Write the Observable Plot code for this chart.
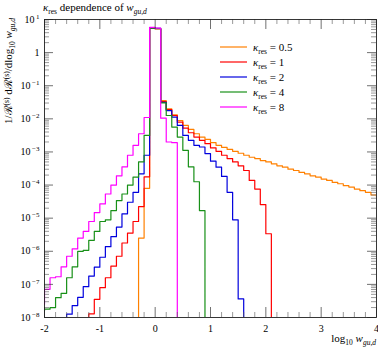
<!DOCTYPE html>
<html><head><meta charset="utf-8">
<script src="https://cdn.jsdelivr.net/npm/d3@7"></script>
<script src="https://cdn.jsdelivr.net/npm/@observablehq/plot@0.6"></script>
<style>body{margin:0;background:#fff;} #chart{position:relative;width:378px;height:349px;}</style>
</head><body><div id="chart"></div>
<script>
// ---- data (log10 of the histogram value per bin, bin width 0.1 in log10 w) ----
const kappaLabels = ["0.5", "1", "2", "4", "8"];
const seriesColors = ["#ff8000", "#ff0000", "#0000dd", "#189018", "#ff00ff"];
const firstBin = [-0.3, -1.2, -1.6, -2.1, -2.1];
const logK05 = [-5.6, -4.1, 0.74, 0.72,
  -1.45, -1.7, -1.88, -2.05, -2.2, -2.32, -2.45, -2.55, -2.62, -2.72,
  -2.8, -2.86, -2.92, -2.98, -3.04, -3.1, -3.16, -3.2, -3.26, -3.3,
  -3.36, -3.42, -3.46, -3.52, -3.56, -3.62, -3.66, -3.72, -3.76, -3.82,
  -3.86, -3.92, -3.96, -4.02, -4.06, -4.12, -4.17, -4.22, -4.3, -4.35];
const logK1 = [-7.89, -7.45, -7.1, -6.8, -6.45, -6.15, -5.75, -5.45, -5.1, -4.65, -3.75,
  0.74, 0.72,
  -1.48, -1.72, -1.9, -2.1, -2.28, -2.42, -2.55, -2.65, -2.75, -2.88,
  -2.98, -3.1, -3.2, -3.3, -3.42, -3.56, -3.86, -4.12, -4.59, -5.47];
const logK2 = [-7.9, -7.64, -7.39, -7.07, -6.75, -6.48, -6.18, -5.86, -5.56, -5.27, -4.87, -4.52, -4.22, -3.66, -3.1,
  0.75, 0.73,
  -1.5, -1.75, -1.95, -2.2, -2.5, -2.65, -2.8, -2.85, -3.05, -3.28, -3.46, -3.74, -4.22, -5.05, -7.44];
const logK4 = [-7.8, -7.75, -7.7, -7.4, -7.27, -6.8, -6.47, -6.0, -5.97, -5.67, -5.4, -5.1, -5.05, -4.77, -4.47, -4.27, -4.0, -3.76, -3.3, -2.5,
  0.74, 0.72,
  -1.52, -1.9, -2.25, -2.55, -2.95, -3.45, -3.9, -4.77];
const logK8 = [-7.6, -7.15, -6.8, -6.77, -6.47, -6.15, -5.93, -5.6, -5.4, -5.1, -4.83, -4.57, -4.27, -4.0, -3.72, -3.45, -3.1, -2.8, -2.45, -1.96,
  0.76, 0.74,
  -1.98, -2.7, -2.72];
const seriesLogs = [logK05, logK1, logK2, logK4, logK8];

const yMajor = [1e-8, 1e-7, 1e-6, 1e-5, 1e-4, 1e-3, 1e-2, 1e-1, 1, 10];
const yMinor = [];
for (let e = -8; e <= 0; e++) for (let m = 2; m <= 9; m++) yMinor.push(m * Math.pow(10, e));
const xMajor = [-2, -1, 0, 1, 2, 3, 4];
const xMinor = d3.range(-20, 41, 2).filter(d => d % 10 !== 0).map(d => d / 10);

// ---- build step series ----
function stepPoints(start, logs) {
  const pts = [{x: start, v: 1e-10}];
  logs.forEach((l, i) => pts.push({x: Math.round((start + i * 0.1) * 10) / 10, v: Math.pow(10, l)}));
  pts.push({x: Math.round((start + logs.length * 0.1) * 10) / 10, v: 1e-10});
  return pts;
}

const W = 378 - 44 - 2, H = 349 - 19 - 32;
const serif = "Liberation Serif";
const fmtY = d => {
  const e = Math.round(Math.log10(d));
  if (e === 0) return "1";
  return "10^" + String(e);
};

const lineMarks = seriesLogs.map((logs, i) =>
  Plot.line(stepPoints(firstBin[i], logs), {x: "x", y: "v", stroke: seriesColors[i], strokeWidth: 1.2, curve: "step-after", clip: true}));

const plot = Plot.plot({
  width: 378, height: 349,
  marginLeft: 44, marginRight: 2, marginTop: 19, marginBottom: 32,
  x: {domain: [-2, 4]},
  y: {type: "log", domain: [1e-8, 10]},
  style: {fontFamily: serif, fontSize: "10px", background: "white", color: "black"},
  marks: [
    ...lineMarks,
    Plot.tickY(yMajor, {y: d => d, insetRight: W - 9, stroke: "#333", strokeWidth: 0.7}),
    Plot.tickY(yMajor, {y: d => d, insetLeft: W - 9, stroke: "#333", strokeWidth: 0.7}),
    Plot.tickY(yMinor, {y: d => d, insetRight: W - 5, stroke: "#555", strokeWidth: 0.6}),
    Plot.tickY(yMinor, {y: d => d, insetLeft: W - 5, stroke: "#555", strokeWidth: 0.6}),
    Plot.tickX(xMajor, {x: d => d, insetTop: H - 10, stroke: "#333", strokeWidth: 0.7}),
    Plot.tickX(xMajor, {x: d => d, insetBottom: H - 10, stroke: "#333", strokeWidth: 0.7}),
    Plot.tickX(xMinor, {x: d => d, insetTop: H - 5, stroke: "#555", strokeWidth: 0.6}),
    Plot.tickX(xMinor, {x: d => d, insetBottom: H - 5, stroke: "#555", strokeWidth: 0.6}),
    Plot.frame({stroke: "#222", strokeWidth: 0.9}),
    Plot.axisY({ticks: yMajor, tickSize: 0, tickPadding: 5, tickFormat: fmtY, label: null, fontSize: 10, fontFamily: serif}),
    Plot.axisX({ticks: xMajor, tickSize: 0, tickPadding: 7, tickFormat: d => (d < 0 ? "-" + Math.abs(d) : String(d)), label: null, fontSize: 10, fontFamily: serif})
  ]
});
document.getElementById("chart").appendChild(plot);

const svg = d3.select(plot);

// y tick labels: turn "10^e" into 10 with a superscript exponent
svg.selectAll('g[aria-label="y-axis tick label"] text').each(function() {
  const s = this.textContent;
  const i = s.indexOf("^");
  if (i < 0) return;
  const base = s.slice(0, i), ex = s.slice(i + 1).replace("-", "\u2212");
  const t = d3.select(this);
  t.text(null);
  t.append("tspan").text(base);
  t.append("tspan").attr("dx", 1.5).attr("dy", -4).attr("font-size", 7).text(ex);
});

// ---- texts: title, axis labels, legend ----
// title
const title = svg.append("text").attr("x", 43).attr("y", 11).attr("text-anchor", "start").attr("font-family", serif).attr("font-size", 11).attr("fill", "black");
title.append("tspan").attr("font-style", "italic").text("κ");
title.append("tspan").attr("dy", 2.5).attr("font-size", 7.5).text("res");
title.append("tspan").attr("dy", -2.5).text(" dependence of ");
title.append("tspan").attr("font-style", "italic").text("w");
title.append("tspan").attr("dy", 2.5).attr("font-size", 7.5).attr("font-style", "italic").text("gu,d");

// x label
const xl = svg.append("text").attr("x", 376).attr("y", 342).attr("text-anchor", "end").attr("font-family", serif).attr("font-size", 11).attr("fill", "black");
xl.append("tspan").text("log");
xl.append("tspan").attr("dy", 2.5).attr("font-size", 7.5).text("10");
xl.append("tspan").attr("dy", -2.5).text(" ");
xl.append("tspan").attr("font-style", "italic").text("w");
xl.append("tspan").attr("dy", 2.5).attr("font-size", 7.5).attr("font-style", "italic").text("gu,d");

// y label
const yl = svg.append("text").attr("transform", "translate(12,18) rotate(-90)").attr("text-anchor", "end").attr("font-family", serif).attr("font-size", 11).attr("fill", "black");
yl.append("tspan").text("1/ℛ");
yl.append("tspan").attr("dy", -3.5).attr("font-size", 7.5).text("(s)");
yl.append("tspan").attr("dy", 3.5).text(" dℛ");
yl.append("tspan").attr("dy", -3.5).attr("font-size", 7.5).text("(s)");
yl.append("tspan").attr("dy", 3.5).text("/dlog");
yl.append("tspan").attr("dy", 2.5).attr("font-size", 7.5).text("10");
yl.append("tspan").attr("dy", -2.5).text(" ");
yl.append("tspan").attr("font-style", "italic").text("w");
yl.append("tspan").attr("dy", 2.5).attr("font-size", 7.5).attr("font-style", "italic").text("gu,d");

// legend
const lg = svg.append("g");
kappaLabels.forEach((k, i) => {
  const y = 47 + 15 * i;
  lg.append("line").attr("x1", 220).attr("x2", 247).attr("y1", y).attr("y2", y).attr("stroke", seriesColors[i]).attr("stroke-width", 1.2);
  const t = lg.append("text").attr("x", 253).attr("y", y + 4).attr("text-anchor", "start").attr("font-family", serif).attr("font-size", 11).attr("fill", "black");
  t.append("tspan").attr("font-style", "italic").text("κ");
  t.append("tspan").attr("dy", 2.5).attr("font-size", 7.5).text("res");
  t.append("tspan").attr("dy", -2.5).text(" = " + k);
});
</script>
</body></html>
